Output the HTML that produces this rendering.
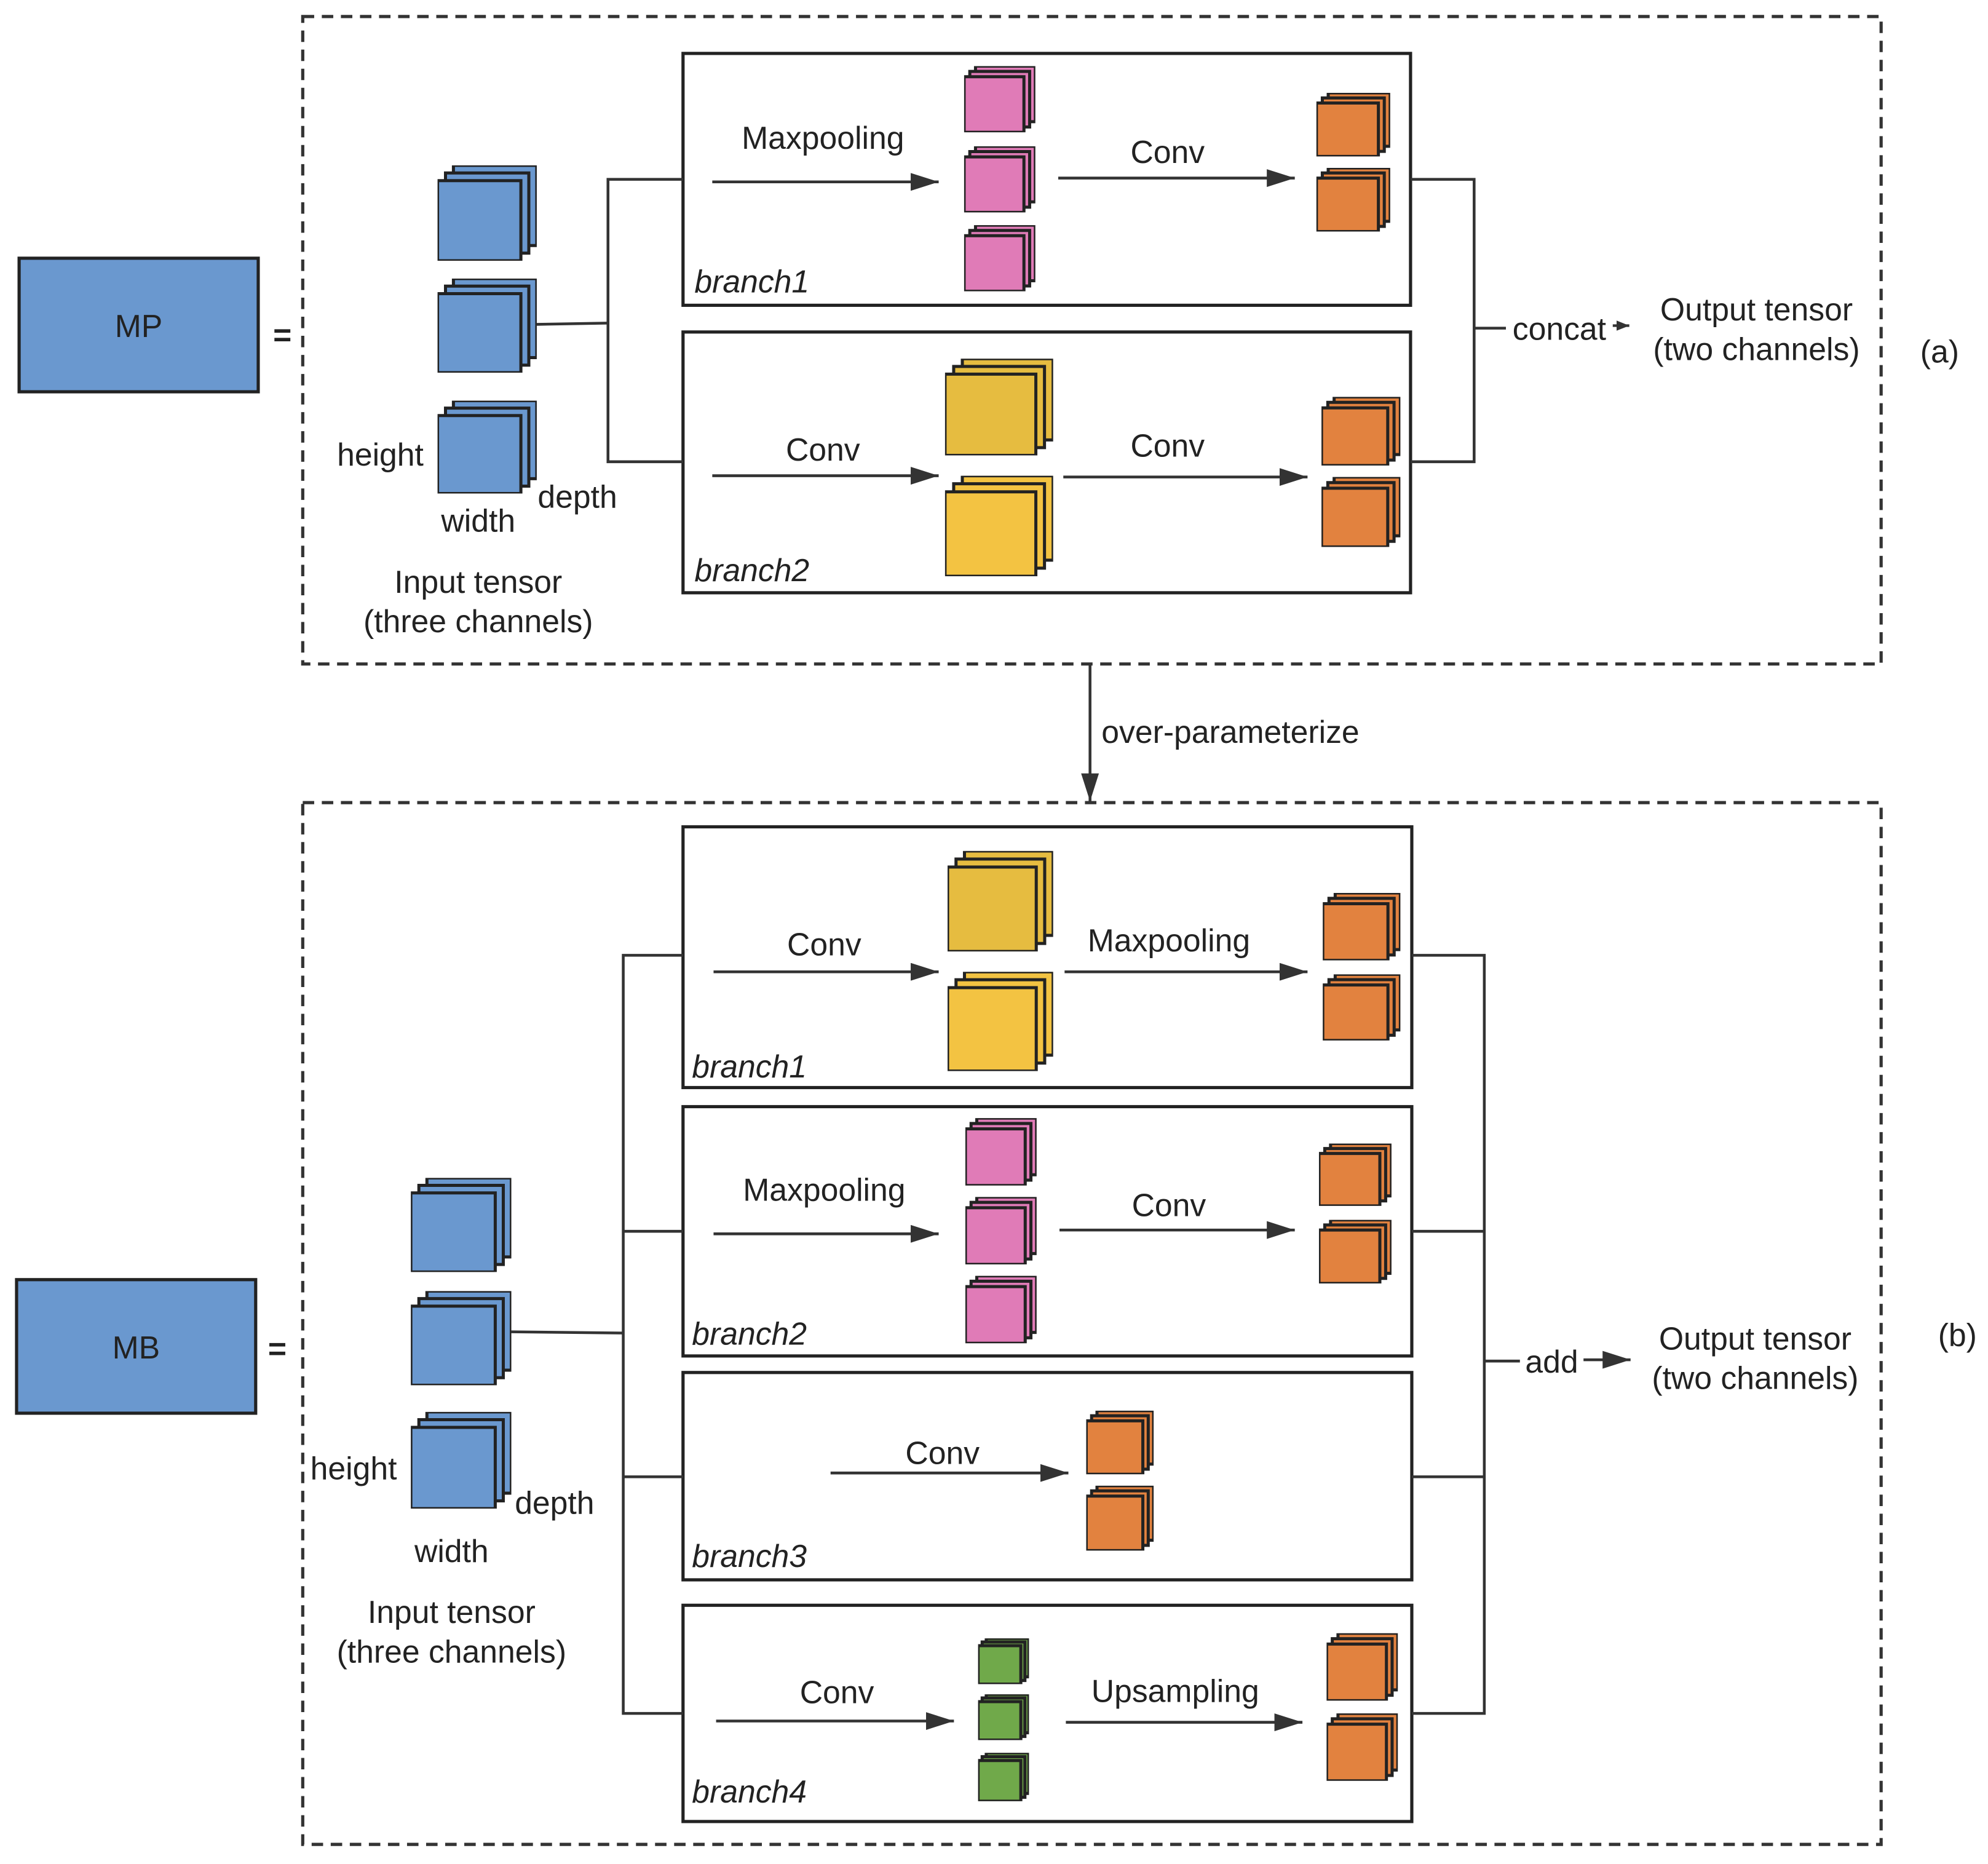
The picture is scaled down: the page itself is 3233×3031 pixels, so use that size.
<!DOCTYPE html>
<html><head><meta charset="utf-8"><style>
html,body{margin:0;padding:0;background:#fff;}
svg{display:block;}
text{font-family:"Liberation Sans","DejaVu Sans",sans-serif;font-size:25px;fill:#222;}
.it{font-style:italic;}
</style></head><body>
<svg width="3233" height="3031" viewBox="0 0 1563 1465.4" xmlns="http://www.w3.org/2000/svg" xmlns:xlink="http://www.w3.org/1999/xlink">
<defs>
<marker id="ah" markerWidth="10" markerHeight="8" refX="10" refY="4" orient="auto" markerUnits="userSpaceOnUse" viewBox="0 0 10 8"><path d="M0,0 L10,4 L0,8 Z" fill="#333"/></marker>
<marker id="ahl" markerWidth="22" markerHeight="14" refX="22" refY="7" orient="auto" markerUnits="userSpaceOnUse" viewBox="0 0 22 14"><path d="M0,0 L22,7 L0,14 Z" fill="#333"/></marker>
<symbol id="sb" viewBox="0 0 100 100" preserveAspectRatio="none"><g stroke="#222" stroke-width="5" vector-effect="non-scaling-stroke" fill="#6A98CF"><rect x="16" y="0" width="84" height="84" vector-effect="non-scaling-stroke"/><rect x="8" y="8" width="84" height="84" vector-effect="non-scaling-stroke"/><rect x="0" y="16" width="84" height="84" vector-effect="non-scaling-stroke"/></g></symbol>
<symbol id="sp" viewBox="0 0 100 100" preserveAspectRatio="none"><g stroke="#222" fill="#E07BB7"><rect x="16" y="0" width="84" height="84" stroke-width="5" vector-effect="non-scaling-stroke"/><rect x="8" y="8" width="84" height="84" stroke-width="5" vector-effect="non-scaling-stroke"/><rect x="0" y="16" width="84" height="84" stroke-width="5" vector-effect="non-scaling-stroke"/></g></symbol>
<symbol id="so" viewBox="0 0 100 100" preserveAspectRatio="none"><g stroke="#222" fill="#E2823F"><rect x="16" y="0" width="84" height="84" stroke-width="5" vector-effect="non-scaling-stroke"/><rect x="8" y="8" width="84" height="84" stroke-width="5" vector-effect="non-scaling-stroke"/><rect x="0" y="16" width="84" height="84" stroke-width="5" vector-effect="non-scaling-stroke"/></g></symbol>
<symbol id="sy1" viewBox="0 0 100 100" preserveAspectRatio="none"><g stroke="#222" fill="#E6BC40"><rect x="16" y="0" width="84" height="84" stroke-width="5" vector-effect="non-scaling-stroke"/><rect x="8" y="8" width="84" height="84" stroke-width="5" vector-effect="non-scaling-stroke"/><rect x="0" y="16" width="84" height="84" stroke-width="5" vector-effect="non-scaling-stroke"/></g></symbol>
<symbol id="sy2" viewBox="0 0 100 100" preserveAspectRatio="none"><g stroke="#222" fill="#F3C342"><rect x="16" y="0" width="84" height="84" stroke-width="5" vector-effect="non-scaling-stroke"/><rect x="8" y="8" width="84" height="84" stroke-width="5" vector-effect="non-scaling-stroke"/><rect x="0" y="16" width="84" height="84" stroke-width="5" vector-effect="non-scaling-stroke"/></g></symbol>
<symbol id="sg" viewBox="0 0 100 100" preserveAspectRatio="none"><g stroke="#222" fill="#70A94A"><rect x="16" y="0" width="84" height="84" stroke-width="5" vector-effect="non-scaling-stroke"/><rect x="8" y="8" width="84" height="84" stroke-width="5" vector-effect="non-scaling-stroke"/><rect x="0" y="16" width="84" height="84" stroke-width="5" vector-effect="non-scaling-stroke"/></g></symbol>
</defs>

<g fill="none" stroke="#333" stroke-width="2.5" stroke-dasharray="9,6">
<rect x="238" y="13" width="1241" height="509"/>
<rect x="238" y="631" width="1241" height="819"/>
</g>

<g stroke="#222" stroke-width="2.5">
<rect x="15" y="203" width="188" height="105" fill="#6A98CF"/>
<rect x="13" y="1006" width="188" height="105" fill="#6A98CF"/>
</g>
<text x="109" y="265" text-anchor="middle">MP</text>
<text x="107" y="1068" text-anchor="middle">MB</text>
<text x="222" y="272" text-anchor="middle" font-weight="bold">=</text>
<text x="218" y="1069" text-anchor="middle" font-weight="bold">=</text>

<g fill="none" stroke="#222" stroke-width="2.5">
<rect x="537" y="42" width="572" height="198"/>
<rect x="537" y="261" width="572" height="205"/>
<rect x="537" y="650" width="573" height="205"/>
<rect x="537" y="870" width="573" height="196"/>
<rect x="537" y="1079" width="573" height="163"/>
<rect x="537" y="1262" width="573" height="170"/>
</g>

<g fill="none" stroke="#333" stroke-width="2.2">
<polyline points="422,255 478,254"/>
<polyline points="537,141 478,141 478,363 537,363"/>
<polyline points="1109,141 1159,141 1159,363 1109,363"/>
<line x1="1159" y1="258" x2="1184" y2="258"/>
<polyline points="402,1047 490,1048"/>
<polyline points="537,751 490,751 490,1347 537,1347"/>
<line x1="490" y1="968" x2="537" y2="968"/>
<line x1="490" y1="1161" x2="537" y2="1161"/>
<polyline points="1110,751 1167,751 1167,1347 1110,1347"/>
<line x1="1110" y1="968" x2="1167" y2="968"/>
<line x1="1110" y1="1161" x2="1167" y2="1161"/>
<line x1="1167" y1="1070" x2="1195" y2="1070"/>
</g>

<g stroke="#333" stroke-width="2.2" marker-end="url(#ahl)">
<line x1="560" y1="143" x2="738" y2="143"/>
<line x1="832" y1="140" x2="1018" y2="140"/>
<line x1="560" y1="374" x2="738" y2="374"/>
<line x1="836" y1="375" x2="1028" y2="375"/>
<line x1="857" y1="522" x2="857" y2="630"/>
<line x1="561" y1="764" x2="738" y2="764"/>
<line x1="837" y1="764" x2="1028" y2="764"/>
<line x1="561" y1="970" x2="738" y2="970"/>
<line x1="833" y1="967" x2="1018" y2="967"/>
<line x1="653" y1="1158" x2="840" y2="1158"/>
<line x1="563" y1="1353" x2="750" y2="1353"/>
<line x1="838" y1="1354" x2="1024" y2="1354"/>
<line x1="1245" y1="1069" x2="1282" y2="1069"/>
</g>
<line x1="1268" y1="256" x2="1281" y2="256" stroke="#333" stroke-width="2" marker-end="url(#ah)"/>

<!-- stacks top -->
<use xlink:href="#sb" x="344" y="130" width="78" height="75"/>
<use xlink:href="#sb" x="344" y="219" width="78" height="74"/>
<use xlink:href="#sb" x="344" y="315" width="78" height="73"/>
<use xlink:href="#sp" x="758" y="52" width="56" height="52"/>
<use xlink:href="#sp" x="758" y="115" width="56" height="52"/>
<use xlink:href="#sp" x="758" y="177" width="56" height="52"/>
<use xlink:href="#so" x="1035" y="73" width="58" height="50"/>
<use xlink:href="#so" x="1035" y="132" width="58" height="50"/>
<use xlink:href="#sy1" x="743" y="282" width="85" height="76"/>
<use xlink:href="#sy2" x="743" y="374" width="85" height="79"/>
<use xlink:href="#so" x="1039" y="312" width="62" height="54"/>
<use xlink:href="#so" x="1039" y="375" width="62" height="55"/>

<!-- stacks bottom -->
<use xlink:href="#sb" x="323" y="926" width="79" height="74"/>
<use xlink:href="#sb" x="323" y="1015" width="79" height="74"/>
<use xlink:href="#sb" x="323" y="1110" width="79" height="76"/>
<use xlink:href="#sy1" x="745" y="669" width="83" height="79"/>
<use xlink:href="#sy2" x="745" y="764" width="83" height="78"/>
<use xlink:href="#so" x="1040" y="702" width="61" height="53"/>
<use xlink:href="#so" x="1040" y="766" width="61" height="52"/>
<use xlink:href="#sp" x="759" y="879" width="56" height="53"/>
<use xlink:href="#sp" x="759" y="941" width="56" height="53"/>
<use xlink:href="#sp" x="759" y="1003" width="56" height="53"/>
<use xlink:href="#so" x="1037" y="899" width="57" height="49"/>
<use xlink:href="#so" x="1037" y="959" width="57" height="50"/>
<use xlink:href="#so" x="854" y="1109" width="53" height="50"/>
<use xlink:href="#so" x="854" y="1168" width="53" height="51"/>
<use xlink:href="#sg" x="769" y="1288" width="40" height="36"/>
<use xlink:href="#sg" x="769" y="1332" width="40" height="36"/>
<use xlink:href="#sg" x="769" y="1378" width="40" height="38"/>
<use xlink:href="#so" x="1043" y="1284" width="56" height="53"/>
<use xlink:href="#so" x="1043" y="1347" width="56" height="53"/>

<!-- labels -->
<text x="647" y="117" text-anchor="middle">Maxpooling</text>
<text x="918" y="128" text-anchor="middle">Conv</text>
<text x="546" y="230" class="it">branch1</text>
<text x="647" y="362" text-anchor="middle">Conv</text>
<text x="918" y="359" text-anchor="middle">Conv</text>
<text x="546" y="457" class="it">branch2</text>
<text x="1226" y="267" text-anchor="middle">concat</text>
<text x="1381" y="252" text-anchor="middle">Output tensor</text>
<text x="1381" y="283" text-anchor="middle">(two channels)</text>
<text x="1525" y="285" text-anchor="middle">(a)</text>
<text x="299" y="366" text-anchor="middle">height</text>
<text x="376" y="418" text-anchor="middle">width</text>
<text x="454" y="399" text-anchor="middle">depth</text>
<text x="376" y="466" text-anchor="middle">Input tensor</text>
<text x="376" y="497" text-anchor="middle">(three channels)</text>
<text x="866" y="584">over-parameterize</text>

<text x="648" y="751" text-anchor="middle">Conv</text>
<text x="919" y="748" text-anchor="middle">Maxpooling</text>
<text x="544" y="847" class="it">branch1</text>
<text x="648" y="944" text-anchor="middle">Maxpooling</text>
<text x="919" y="956" text-anchor="middle">Conv</text>
<text x="544" y="1057" class="it">branch2</text>
<text x="741" y="1151" text-anchor="middle">Conv</text>
<text x="544" y="1232" class="it">branch3</text>
<text x="658" y="1339" text-anchor="middle">Conv</text>
<text x="924" y="1338" text-anchor="middle">Upsampling</text>
<text x="544" y="1417" class="it">branch4</text>
<text x="1220" y="1079" text-anchor="middle">add</text>
<text x="1380" y="1061" text-anchor="middle">Output tensor</text>
<text x="1380" y="1092" text-anchor="middle">(two channels)</text>
<text x="1539" y="1058" text-anchor="middle">(b)</text>
<text x="278" y="1163" text-anchor="middle">height</text>
<text x="355" y="1228" text-anchor="middle">width</text>
<text x="436" y="1190" text-anchor="middle">depth</text>
<text x="355" y="1276" text-anchor="middle">Input tensor</text>
<text x="355" y="1307" text-anchor="middle">(three channels)</text>
</svg>
</body></html>
